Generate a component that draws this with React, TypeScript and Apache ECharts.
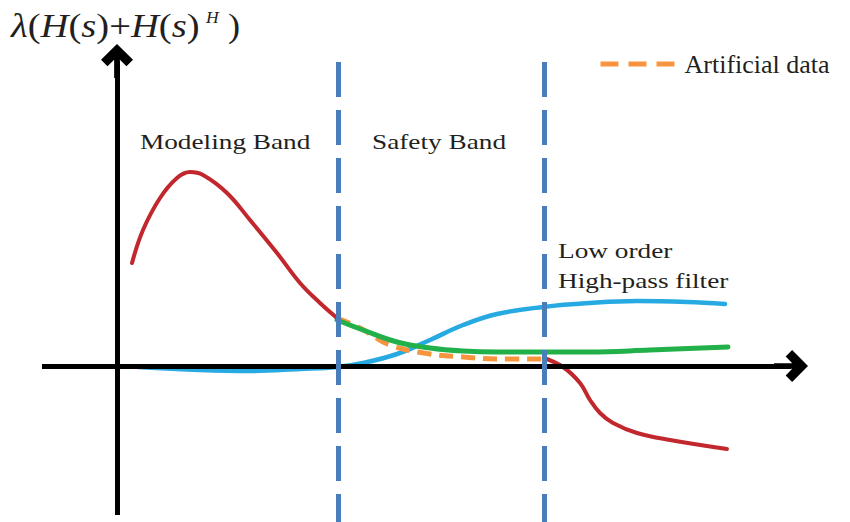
import React, { useEffect, useRef } from "react";
import * as echarts from "echarts";

// Schematic frequency axis (arbitrary units) against eigenvalue of H(s)+H(s)^H.
// Modelled response inside the modeling band.
const modelBand: [number, number][] = [
  [1.5, 10.3], [2.6, 13.6], [4.3, 16.8], [6.0, 18.8], [7.3, 19.4], [8.6, 19.1],
  [11.0, 17.3], [13.3, 14.6], [16.0, 11.3], [18.3, 8.3], [20.3, 6.3], [22.0, 4.8],
];
// Model behaviour above the safety band (goes negative).
const modelTail: [number, number][] = [
  [42.7, 0.8], [44.6, -0.1], [46.3, -1.7], [47.3, -3.4], [48.3, -4.7],
  [49.6, -5.7], [52.0, -6.7], [55.3, -7.4], [61.0, -8.3],
];
// Low order high-pass filter.
const highPass: [number, number][] = [
  [2.1, -0.1], [8.3, -0.4], [13.3, -0.5], [18.3, -0.3], [22.0, -0.1], [24.6, 0.3],
  [28.0, 1.2], [31.3, 2.6], [34.6, 4.1], [38.0, 5.2], [42.6, 5.9], [47.3, 6.3],
  [52.0, 6.5], [57.0, 6.4], [60.8, 6.2],
];
// Response after adding the filter.
const corrected: [number, number][] = [
  [22.0, 4.6], [24.6, 3.6], [28.0, 2.4], [31.3, 1.8], [34.6, 1.5], [38.0, 1.4],
  [42.6, 1.4], [47.3, 1.4], [53.3, 1.6], [61.1, 1.9],
];
// Artificial data filling the safety band.
const artificial: [number, number][] = [
  [22.0, 4.8], [24.3, 3.8], [27.3, 2.1], [31.3, 1.2], [34.6, 0.9], [38.0, 0.7], [42.6, 0.7],
];

// Band boundaries and the extent of the drawn axes.
const bandEdges = [22.1, 42.7];
const edgeSpan = [30.4, -15.6];
const xAxisSpan = [-7.5, 67.4];
const yAxisSpan = [-14.9, 30.5];
const viewX = [-11.7, 73.3];
const viewY = [-15.6, 36.6];

const FONT = "'Liberation Serif', 'Times New Roman', serif";
const INK = "#231f20";
// Bold chevron arrowhead (pointing up; the marker rotates it along the line).
const ARROW =
  "path://M15 0 L29 14 L23.3 19.7 L17.5 13.9 L17.5 30 L12.5 30 L12.5 13.9 L6.7 19.7 L1 14 Z";

const curve = (name: string, data: [number, number][], color: string, width: number, z: number, dashed?: number[]) => ({
  type: "line",
  name,
  data,
  smooth: 0.4,
  symbol: "none",
  showSymbol: false,
  silent: true,
  clip: false,
  z,
  lineStyle: { color, width, type: dashed ?? "solid", cap: dashed ? "butt" : "round" },
  itemStyle: { color },
});

const label = (text: string, x: number, y: number) => ({
  type: "text",
  x,
  y,
  scaleX: 1.24,
  silent: true,
  style: { text, fontFamily: FONT, fontSize: 22, fill: INK, verticalAlign: "middle", align: "left" },
});

const mathText = (text: string, x: number, y: number, size: number, italic: boolean) => ({
  type: "text",
  x,
  y,
  scaleX: 1.1,
  silent: true,
  style: {
    text,
    fontFamily: FONT,
    fontSize: size,
    fontStyle: italic ? "italic" : "normal",
    fill: INK,
    verticalAlign: "middle",
    align: "left",
  },
});

export default function App() {
  const ref = useRef<HTMLDivElement>(null);

  useEffect(() => {
    if (!ref.current) return;
    const chart = echarts.init(ref.current, undefined, { renderer: "svg" });
    chart.setOption({
      animation: false,
      backgroundColor: "#ffffff",
      grid: { left: 0, right: 0, top: 0, bottom: 0 },
      xAxis: { type: "value", min: viewX[0], max: viewX[1], show: false },
      yAxis: { type: "value", min: viewY[0], max: viewY[1], show: false },
      legend: {
        data: ["Artificial data"],
        selectedMode: false,
        left: 593,
        top: 46,
        itemWidth: 79,
        itemHeight: 14,
        itemStyle: { opacity: 0 },
        lineStyle: { width: 5, type: [18, 10], color: "#f7953f", cap: "butt" },
        textStyle: { fontFamily: FONT, fontSize: 26, color: INK },
      },
      series: [
        {
          type: "line",
          name: "axes",
          data: [],
          silent: true,
          z: 1,
          markLine: {
            silent: true,
            symbol: ["none", ARROW],
            symbolSize: [32, 34],
            label: { show: false },
            emphasis: { disabled: true },
            lineStyle: { color: "#000000", width: 5, type: "solid" },
            data: [
              [{ coord: [xAxisSpan[0], 0] }, { coord: [xAxisSpan[1], 0] }],
              [{ coord: [0, yAxisSpan[0]] }, { coord: [0, yAxisSpan[1]] }],
            ],
          },
        },
        curve("High-pass filter", highPass, "#27aae1", 4.5, 3),
        curve("Artificial data", artificial, "#f7953f", 5, 3, [14, 8]),
        curve("Corrected", corrected, "#22b04b", 5, 4),
        curve("Model", modelBand, "#c1272d", 4, 4),
        curve("Model tail", modelTail, "#c1272d", 4, 4),
        {
          type: "line",
          name: "bands",
          data: [],
          silent: true,
          z: 5,
          markLine: {
            silent: true,
            symbol: ["none", "none"],
            label: { show: false },
            emphasis: { disabled: true },
            lineStyle: { color: "#4a7ebb", width: 5, type: [35, 13] },
            data: bandEdges.map((x) => [{ coord: [x, edgeSpan[0]] }, { coord: [x, edgeSpan[1]] }]),
          },
        },
      ],
      graphic: [
        {
          type: "text",
          x: 11,
          y: 25.9,
          scaleX: 1.17,
          silent: true,
          style: {
            text: "{i|λ}{n|(}{i|H}{n|(}{i|s}{n|)+}{i|H}{n|(}{i|s}{n|)}",
            verticalAlign: "middle",
            fill: INK,
            rich: {
              i: { fontFamily: FONT, fontSize: 33, fontStyle: "italic", fill: INK },
              n: { fontFamily: FONT, fontSize: 33, fill: INK },
            },
          },
        },
        mathText("H", 206, 18, 16, true),
        mathText(")", 228, 25.9, 33, false),
        label("Modeling Band", 140, 141.6),
        label("Safety Band", 372, 141.6),
        label("Low order", 558, 250.6),
        label("High-pass filter", 558, 280.6),
      ],
    });
    return () => chart.dispose();
  }, []);

  return <div ref={ref} style={{ position: "fixed", left: 0, top: 0, width: 850, height: 522 }} />;
}
